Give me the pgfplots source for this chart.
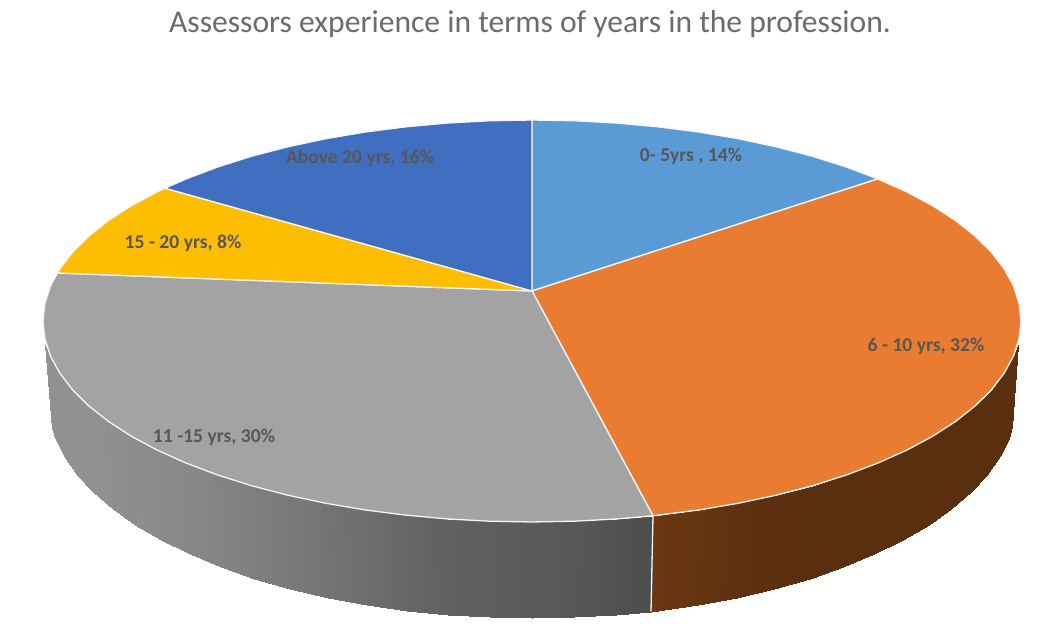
\documentclass[border=0pt]{standalone}
\usepackage{pgfplots}
\pgfplotsset{compat=1.18}
\usepackage{fontspec}
\setmainfont{Carlito}

\definecolor{sliceA}{RGB}{91,155,213}
\definecolor{sliceB}{RGB}{233,124,48}
\definecolor{sliceC}{RGB}{163,163,163}
\definecolor{sliceD}{RGB}{253,189,0}
\definecolor{sliceE}{RGB}{64,110,192}
\definecolor{rim}{RGB}{245,245,245}
\tikzset{
    slice/.style={draw=rim, line width=1.3pt, line join=round},
    lab/.style={font=\fontsize{19.6}{21}\selectfont\bfseries, text=black!66}
}

\begin{document}
\begin{tikzpicture}
\begin{axis}[
    scale only axis,
    width=1037pt,
    height=636pt,
    xmin=0, xmax=1037,
    ymin=0, ymax=636,
    y dir=reverse,
    ticks=none,
    axis line style={draw=none},
    point meta min=77,
    point meta max=320,
    colormap={side}{rgb255(77pt)=(77,77,77) rgb255(145pt)=(145,145,145) rgb255(300pt)=(90,47,16) rgb255(320pt)=(110,56,18)}
]
% side of the disc, orange part
\addplot[surf, shader=interp, mesh/cols=2, point meta=explicit] table[meta=c] {
x y c
1018 345.5 300
1012.4 426.6 300
1013.6 355.9 300
1008.6 437.9 300
1004.3 373 300
999.5 456.4 300
991.5 389.7 300
986.8 474.6 300
975.2 405.9 300
970.7 492.1 300
955.5 421.5 300
951.2 509 300
932.6 436.3 300
928.5 525 300
906.6 450.2 300
902.8 540.1 300
877.8 463.1 300
874.2 554.1 300
846.3 475 300
843.1 567 300
812.5 485.7 300
809.6 578.6 300
776.5 495.1 301
774 588.8 301
738.7 503.2 305
736.5 597.6 305
699.2 509.9 311
697.5 604.9 311
653 515.8 318
651 611.5 318
};
% side of the disc, grey part
\addplot[surf, shader=interp, mesh/cols=2, point meta=explicit] table[meta=c] {
x y c
653 515.8 77
651 611.5 77
616.9 518.9 82
616 614.7 82
574.6 521.2 87
574.2 617.2 87
532 522 91
532 618 91
489.4 521.2 94
489.8 617.2 94
447.1 518.9 97
448 614.7 97
405.4 515.1 103
406.7 610.6 103
364.8 509.9 110
366.5 604.9 110
325.3 503.2 116
327.5 597.6 116
287.5 495.1 122
290 588.8 122
251.5 485.7 127
254.4 578.6 127
217.7 475 132
220.9 567 132
186.2 463.1 136
189.8 554.1 136
157.4 450.2 139
161.2 540.1 139
131.4 436.3 141
135.5 525 141
108.5 421.5 143
112.8 509 143
88.8 405.9 145
93.3 492.1 145
72.5 389.7 145
77.2 474.6 145
59.7 373 145
64.5 456.4 145
50.4 355.9 145
55.4 437.9 145
45.5 345.5 145
52.5 428 145
};
% divider on the side
\addplot[rim, line width=1.3pt, no marks] coordinates {(653,515.8) (651,611.5)};
% top faces
\addplot[slice, fill=sliceA] coordinates {(532,291) (532,120) (574.6,120.8) (616.9,123.1) (658.6,126.9) (699.2,132.1) (738.7,138.8) (776.5,146.9) (812.5,156.3) (846.3,167) (877.8,178.9) (532,291)};
\addplot[slice, fill=sliceB] coordinates {(532,291) (877.8,178.9) (906.6,191.8) (932.6,205.7) (955.5,220.5) (975.2,236.1) (991.5,252.3) (1004.3,269) (1013.6,286.1) (1019.1,303.5) (1021,321) (1019.1,338.5) (1013.6,355.9) (1004.3,373) (991.5,389.7) (975.2,405.9) (955.5,421.5) (932.6,436.3) (906.6,450.2) (877.8,463.1) (846.3,475) (812.5,485.7) (776.5,495.1) (738.7,503.2) (699.2,509.9) (653,515.8) (532,291)};
\addplot[slice, fill=sliceC] coordinates {(532,291) (653,515.8) (616.9,518.9) (574.6,521.2) (532,522) (489.4,521.2) (447.1,518.9) (405.4,515.1) (364.8,509.9) (325.3,503.2) (287.5,495.1) (251.5,485.7) (217.7,475) (186.2,463.1) (157.4,450.2) (131.4,436.3) (108.5,421.5) (88.8,405.9) (72.5,389.7) (59.7,373) (50.4,355.9) (44.9,338.5) (43,321) (44.9,303.5) (50.4,286.1) (57.5,273) (532,291)};
\addplot[slice, fill=sliceD] coordinates {(532,291) (57.5,273) (59.7,269) (72.5,252.3) (88.8,236.1) (108.5,220.5) (131.4,205.7) (157.4,191.8) (165,188.2) (532,291)};
\addplot[slice, fill=sliceE] coordinates {(532,291) (165,188.2) (186.2,178.9) (217.7,167) (251.5,156.3) (287.5,146.9) (325.3,138.8) (364.8,132.1) (405.4,126.9) (447.1,123.1) (489.4,120.8) (532,120) (532,291)};
% labels
\node[lab] at (axis cs:691,156) {0- 5yrs , 14\%};
\node[lab] at (axis cs:926,346) {6 - 10 yrs, 32\%};
\node[lab] at (axis cs:214,437) {11 -15 yrs, 30\%};
\node[lab] at (axis cs:183,243) {15 - 20 yrs, 8\%};
\node[lab] at (axis cs:360,158) {Above 20 yrs, 16\%};
\node[font=\fontsize{31.6}{34}\selectfont, text=black!58] at (axis cs:530,24) {Assessors experience in terms of years in the profession.};
\end{axis}
\end{tikzpicture}
\end{document}
